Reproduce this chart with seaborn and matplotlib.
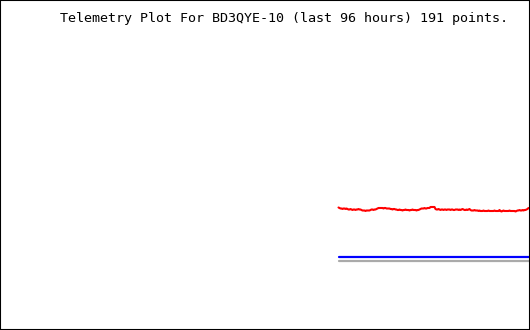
import matplotlib
matplotlib.use("Agg")
import matplotlib.pyplot as plt
import seaborn as sns
import pandas as pd

title = "Telemetry Plot For BD3QYE-10 (last 96 hours) 191 points."

red_vals = [
    122.5, 122.0,
    121.5, 121.5, 121.0, 121.5, 121.5, 121.0, 121.5, 121.0,
    120.5, 120.5, 121.0, 120.5, 120.0, 120.5, 120.5, 120.0, 120.5, 120.5, 121.0, 120.5, 120.5, 120.0,
    119.5, 119.5, 119.5, 119.0, 119.5, 119.5, 119.5, 119.5,
    120.0, 120.5, 120.5, 120.0, 120.5, 120.5, 121.0,
    121.5, 122.0, 122.0, 122.0, 122.0, 122.0, 121.5, 122.0, 122.0, 121.5, 121.5, 121.5, 121.5,
    121.0, 121.0, 120.5, 121.0, 121.0, 120.5, 120.5,
    120.0, 120.0, 120.5, 120.0, 120.0, 119.5, 120.0, 120.0, 120.5, 120.0, 120.0, 120.0, 119.5, 120.0,
    120.0, 120.5, 120.0, 120.0, 120.0, 119.5, 120.0, 120.0, 120.5,
    121.0, 121.5, 121.5, 121.5, 122.0, 121.5, 121.5, 122.0, 122.0, 122.0,
    123.0, 123.0, 123.0, 123.0, 123.0,
    121.0, 120.5, 120.5, 121.0, 120.5, 120.0, 120.5, 120.5, 120.0, 120.5, 120.5, 120.0, 120.5, 120.5,
    120.5, 120.0, 120.5, 120.5, 120.0, 120.0, 120.5, 120.5, 120.5, 120.0, 120.5, 120.0, 120.5, 121.0,
    120.5, 120.0, 120.0, 120.5, 120.0, 120.5, 121.0,
    120.0, 119.5, 119.5, 119.5, 120.0, 119.5, 119.5, 119.5,
    119.0, 119.5, 119.0, 119.0, 119.0, 119.5, 119.0, 119.0, 119.0, 119.0, 119.5, 119.0, 119.0, 119.0,
    119.0, 119.0, 119.5, 119.0, 119.0, 119.0, 119.0, 120.0, 119.0, 118.5, 119.0, 119.5, 119.0, 119.0,
    119.0, 119.0, 119.0, 119.5, 119.0, 119.0, 119.0, 119.0, 119.0, 118.5, 119.0,
    119.5, 119.5, 120.0, 119.5, 119.5, 120.0, 119.5, 120.0, 120.0, 120.5, 121.0,
    122.0,
]
n = len(red_vals)
blue_vals = [73.0] * n
gray_vals = [69.5] * n
idx = list(range(n))

df = pd.DataFrame({"t": idx, "red": red_vals, "blue": blue_vals, "gray": gray_vals})

sns.set_style("white")
plt.rcParams["font.family"] = ["DejaVu Sans Mono", "DejaVu Sans"]

fig = plt.figure(figsize=(5.3, 3.3), dpi=100)
ax = fig.add_axes([0, 0, 1, 1])
sns.lineplot(data=df, x="t", y="red", ax=ax, color="#ff0000", linewidth=1.5)
sns.lineplot(data=df, x="t", y="blue", ax=ax, color="#0000ff", linewidth=1.6)
sns.lineplot(data=df, x="t", y="gray", ax=ax, color="#aaaaaa", linewidth=1.6)

ax.set_xlim(-338.5, 191.5)
ax.set_ylim(0, 330)
ax.set_xticks([])
ax.set_yticks([])
ax.set_xlabel("")
ax.set_ylabel("")
for s in ax.spines.values():
    s.set_visible(True)
    s.set_color("black")
    s.set_linewidth(1.5)

fig.text(60 / 530, 1 - 22 / 330, title, fontsize=9.6, color="black",
         ha="left", va="baseline", family=["DejaVu Sans Mono", "DejaVu Sans"])

fig.savefig("out.png", dpi=100)
